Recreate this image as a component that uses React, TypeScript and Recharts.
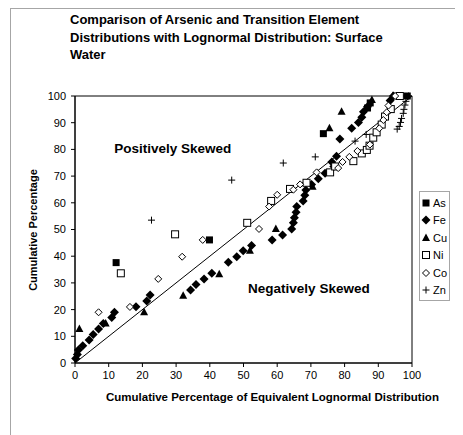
import React from "react";
import {
  ScatterChart,
  Scatter,
  XAxis,
  YAxis,
  ReferenceLine,
  ReferenceArea,
  ReferenceDot,
} from "recharts";

type Pt = { x: number; y: number };

const toPts = (rows: number[][]): Pt[] => rows.map(([x, y]) => ({ x, y }));

// cumulative % of lognormal (x) vs observed cumulative % (y)
const asData = [
  [12.2, 37.6], [39.9, 46.1], [73.7, 85.9], [86.8, 95.5], [87.6, 97.4], [98.6, 100],
];
const feData = [
  [0.2, 1.7], [0.7, 3.2], [1, 4.9], [2.3, 6.5], [4.2, 8.6], [5.4, 10.7], [7, 12.7],
  [8.4, 14.8], [10.9, 17], [11.7, 19], [18.1, 21.1], [21.3, 23.2], [22.3, 25.5],
  [34.3, 27.3], [35.9, 29.4], [38.3, 31.5], [40.6, 33.6], [45.5, 37.7], [48, 39.8],
  [49.9, 42], [52.4, 44], [58.5, 46.1], [61.6, 47.9], [64.3, 50.2], [64.8, 52.5],
  [65.1, 54.4], [65.6, 56.5], [65.8, 58.6], [67.7, 60.7], [68.2, 62.8], [68.5, 64.8],
  [70.2, 66.9], [72.2, 69], [74.2, 71.1], [76.8, 73.6], [76.2, 75.3], [77.6, 77.4],
  [78.6, 83.9], [82.1, 87.9], [84.1, 90.1], [85.1, 92], [85.6, 94.1], [86.8, 96],
  [93.5, 98.3], [94.5, 100],
];
const cuData = [
  [1.3, 12.7], [9.1, 14.8], [20.5, 19], [32.1, 25.2], [42.8, 33.2], [51.9, 42],
  [59.6, 50.2], [70.5, 66], [75.5, 87.9], [79.1, 94.1], [88.1, 98.5], [94.3, 100],
];
const niData = [
  [13.6, 33.6], [29.7, 48.2], [51.1, 52.5], [58.2, 60.7], [63.8, 65.2], [68.7, 67.5],
  [75.7, 71.4], [77.2, 73.6], [82.6, 75.6], [85.1, 78.5], [86.6, 79.8], [87.4, 81.4],
  [88.5, 84.4], [89.5, 86.4], [91, 89.3], [92, 92.3], [93.7, 95.1], [96.4, 100],
];
const coData = [
  [7, 19], [16.3, 21], [24.7, 31.5], [31.8, 39.8], [37.9, 46.1], [54.6, 50.2],
  [57.6, 58.6], [60, 63], [64.8, 64.9], [66.8, 66.9], [71.7, 71.4], [78.1, 73],
  [79.4, 75.3], [81.4, 77.2], [83.8, 79.4], [87.5, 81.8], [90.3, 87.9], [91.5, 91],
  [92.5, 93.9], [93, 96.4], [95, 100],
];
const znData = [
  [22.7, 53.5], [46.5, 68.5], [61.8, 74.9], [71.3, 77.2], [83.1, 83.1], [86.4, 85.6],
  [95.6, 87.6], [96.2, 88.6], [96.6, 90.1], [96.9, 91.6], [97.4, 93.5], [97.6, 95],
  [97.9, 96.6], [98.2, 98], [99, 100],
];

const ticks = [0, 10, 20, 30, 40, 50, 60, 70, 80, 90, 100];
const legendNames = ["As", "Fe", "Cu", "Ni", "Co", "Zn"];

const FONT = "'Liberation Sans', Arial, sans-serif";

function Marker({ kind, cx, cy }: { kind: string; cx: number; cy: number }) {
  switch (kind) {
    case "As":
      return <rect x={cx - 3.5} y={cy - 3.5} width={7} height={7} fill="#000" />;
    case "Fe":
      return (
        <polygon
          points={`${cx},${cy - 4.5} ${cx + 4.5},${cy} ${cx},${cy + 4.5} ${cx - 4.5},${cy}`}
          fill="#000"
        />
      );
    case "Cu":
      return (
        <polygon
          points={`${cx},${cy - 4.5} ${cx + 4},${cy + 3} ${cx - 4},${cy + 3}`}
          fill="#000"
        />
      );
    case "Ni":
      return (
        <rect x={cx - 3.5} y={cy - 3.5} width={7} height={7} fill="#fff" stroke="#000" strokeWidth={1} />
      );
    case "Co":
      return (
        <polygon
          points={`${cx},${cy - 3.5} ${cx + 3.5},${cy} ${cx},${cy + 3.5} ${cx - 3.5},${cy}`}
          fill="#fff"
          stroke="#000"
          strokeWidth={1}
        />
      );
    default:
      return (
        <g stroke="#000" strokeWidth={1}>
          <line x1={cx - 3.5} y1={cy} x2={cx + 3.5} y2={cy} />
          <line x1={cx} y1={cy - 3.5} x2={cx} y2={cy + 3.5} />
        </g>
      );
  }
}

const shapeFor = (kind: string) => (props: any) => (
  <Marker kind={kind} cx={props.cx} cy={props.cy} />
);

const series: [string, number[][]][] = [
  ["As", asData],
  ["Fe", feData],
  ["Cu", cuData],
  ["Ni", niData],
  ["Co", coData],
  ["Zn", znData],
];

export default function App() {
  return (
    <div style={{ position: "relative", width: 455, height: 427, fontFamily: FONT }}>
      <div
        style={{
          position: "absolute",
          left: 2,
          top: 0,
          width: 460,
          height: 440,
          borderLeft: "1px solid #a6a6a6",
          borderTop: "1px solid #a6a6a6",
        }}
      />
      <div
        style={{
          position: "absolute",
          left: 62,
          top: 3,
          fontSize: 13,
          fontWeight: "bold",
          lineHeight: "17.5px",
          color: "#000",
        }}
      >
        Comparison of Arsenic and Transition Element
        <br />
        Distributions with Lognormal Distribution: Surface
        <br />
        Water
      </div>
      <ScatterChart
        width={455}
        height={420}
        margin={{ top: 88, right: 51, bottom: 35, left: 42 }}
        style={{ position: "absolute", left: 0, top: 0 }}
      >
        <XAxis
          type="number"
          dataKey="x"
          domain={[0, 100]}
          ticks={ticks}
          interval={0}
          height={30}
          tickSize={4}
          tickMargin={4}
          stroke="#000"
          tick={{ fill: "#000", fontSize: 11, fontFamily: FONT }}
        />
        <YAxis
          type="number"
          dataKey="y"
          domain={[0, 100]}
          ticks={ticks}
          interval={0}
          width={25}
          tickSize={4}
          tickMargin={5}
          stroke="#000"
          tick={{ fill: "#000", fontSize: 11, fontFamily: FONT }}
        />
        <ReferenceArea x1={0} x2={100} y1={0} y2={100} fill="none" stroke="#000" strokeWidth={1} />
        <ReferenceLine
          segment={[{ x: 0, y: 0 }, { x: 100, y: 100 }]}
          stroke="#000"
          strokeWidth={1}
        />
        <ReferenceDot
          x={29}
          y={80.5}
          r={0}
          label={{
            value: "Positively Skewed",
            position: "center",
            fontSize: 13.5,
            fontWeight: "bold",
            fill: "#000",
            fontFamily: FONT,
          }}
        />
        <ReferenceDot
          x={69.4}
          y={28}
          r={0}
          label={{
            value: "Negatively Skewed",
            position: "center",
            fontSize: 13.5,
            fontWeight: "bold",
            fill: "#000",
            fontFamily: FONT,
          }}
        />
        {series.map(([name, rows]) => (
          <Scatter
            key={name}
            name={name}
            data={toPts(rows)}
            shape={shapeFor(name)}
            isAnimationActive={false}
          />
        ))}
      </ScatterChart>
      <div
        style={{
          position: "absolute",
          left: 25,
          top: 222,
          transform: "translate(-50%, -50%) rotate(-90deg)",
          fontSize: 11,
          fontWeight: "bold",
          whiteSpace: "nowrap",
        }}
      >
        Cumulative Percentage
      </div>
      <div
        style={{
          position: "absolute",
          left: 98,
          top: 383,
          fontSize: 11.5,
          fontWeight: "bold",
          whiteSpace: "nowrap",
        }}
      >
        Cumulative Percentage of Equivalent Lognormal Distribution
      </div>
      <div
        style={{
          position: "absolute",
          left: 411,
          top: 183,
          width: 31,
          height: 110,
          border: "1px solid #a6a6a6",
          boxSizing: "border-box",
          paddingTop: 2,
        }}
      >
        {legendNames.map((n) => (
          <div key={n} style={{ display: "flex", alignItems: "center", height: 17.5, fontSize: 11 }}>
            <svg width={12} height={12}>
              <Marker kind={n} cx={6} cy={6} />
            </svg>
            <span style={{ marginLeft: 1 }}>{n}</span>
          </div>
        ))}
      </div>
    </div>
  );
}
